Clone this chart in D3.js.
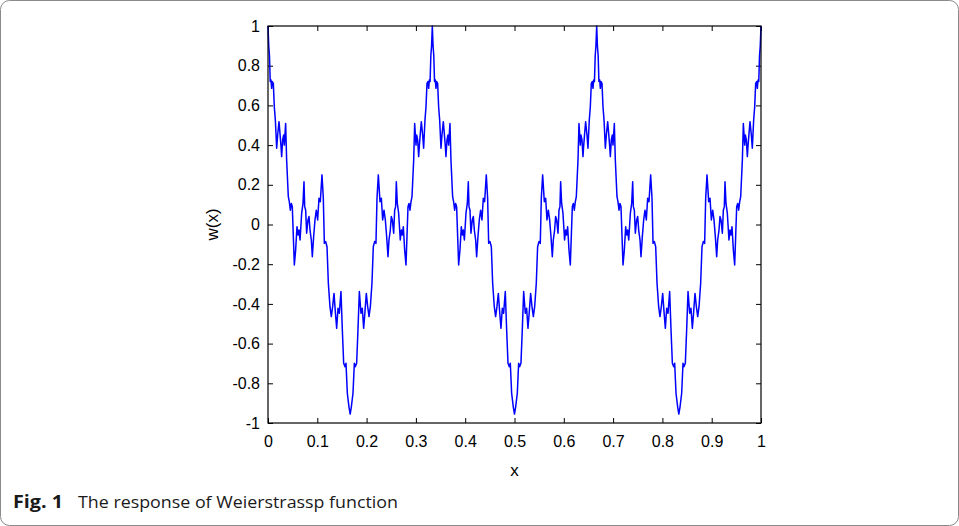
<!DOCTYPE html>
<html>
<head>
<meta charset="utf-8">
<script src="https://cdn.jsdelivr.net/npm/d3@7"></script>
<style>
  html, body { margin: 0; padding: 0; background: #fff; }
  svg { display: block; }
  .tick text { font-family: "Liberation Sans", Arial, sans-serif; font-size: 16px; fill: #000; }
  .tick line { stroke: #000; }
</style>
</head>
<body>
<svg id="chart" width="959" height="526"></svg>
<script>
// tick labels
const xTicks = [0, 0.1, 0.2, 0.3, 0.4, 0.5, 0.6, 0.7, 0.8, 0.9, 1];
const yTicks = [-1, -0.8, -0.6, -0.4, -0.2, 0, 0.2, 0.4, 0.6, 0.8, 1];

// w(x), [x, w]
const curve = [
  [0.0000,1.000],[0.0015,0.900],[0.0030,0.850],[0.0045,0.720],[0.0061,0.728],[0.0074,0.686],[0.0088,0.720],[0.0108,0.711],
  [0.0128,0.593],[0.0149,0.526],[0.0176,0.384],[0.0196,0.451],[0.0223,0.518],[0.0243,0.459],[0.0264,0.393],
  [0.0277,0.342],[0.0297,0.426],[0.0318,0.451],[0.0331,0.400],[0.0358,0.509],[0.0378,0.325],[0.0412,0.140],
  [0.0432,0.115],[0.0453,0.072],[0.0473,0.106],[0.0493,0.090],[0.0514,-0.061],[0.0534,-0.204],[0.0561,-0.128],
  [0.0588,-0.011],[0.0609,-0.053],[0.0629,-0.028],[0.0650,-0.078],[0.0683,0.057],[0.0710,0.106],[0.0730,0.215],
  [0.0744,0.090],[0.0764,0.072],[0.0784,-0.044],[0.0811,0.023],[0.0832,0.040],[0.0852,-0.028],[0.0879,-0.078],
  [0.0899,-0.162],[0.0926,-0.061],[0.0953,0.023],[0.0980,0.072],[0.1007,0.023],[0.1034,0.132],[0.1061,0.115],
  [0.1095,0.250],[0.1122,0.132],[0.1143,-0.095],[0.1170,-0.086],[0.1197,-0.112],[0.1224,-0.296],[0.1257,-0.414],
  [0.1284,-0.464],[0.1311,-0.414],[0.1339,-0.347],[0.1366,-0.440],[0.1393,-0.523],[0.1420,-0.422],[0.1447,-0.447],
  [0.1480,-0.338],[0.1508,-0.531],[0.1535,-0.699],[0.1562,-0.716],[0.1582,-0.699],[0.1609,-0.850],[0.1643,-0.920],
  [0.1667,-0.955],
  [0.1690,-0.920],[0.1724,-0.850],[0.1751,-0.699],[0.1771,-0.716],[0.1798,-0.699],[0.1825,-0.531],[0.1853,-0.338],
  [0.1886,-0.447],[0.1913,-0.422],[0.1940,-0.523],[0.1967,-0.440],[0.1994,-0.347],[0.2022,-0.414],[0.2049,-0.464],
  [0.2076,-0.414],[0.2109,-0.296],[0.2136,-0.112],[0.2163,-0.086],[0.2190,-0.095],[0.2211,0.132],[0.2238,0.250],
  [0.2272,0.115],[0.2299,0.132],[0.2326,0.023],[0.2353,0.072],[0.2380,0.023],[0.2407,-0.061],[0.2434,-0.162],
  [0.2454,-0.078],[0.2481,-0.028],[0.2501,0.040],[0.2522,0.023],[0.2549,-0.044],[0.2569,0.072],[0.2589,0.090],
  [0.2603,0.215],[0.2623,0.106],[0.2650,0.057],[0.2683,-0.078],[0.2704,-0.028],[0.2724,-0.053],[0.2745,-0.011],
  [0.2772,-0.128],[0.2799,-0.204],[0.2819,-0.061],[0.2840,0.090],[0.2860,0.106],[0.2880,0.072],[0.2901,0.115],
  [0.2921,0.140],[0.2955,0.325],[0.2975,0.509],[0.3002,0.400],[0.3015,0.451],[0.3036,0.426],[0.3056,0.342],
  [0.3069,0.393],[0.3090,0.459],[0.3110,0.518],[0.3137,0.451],[0.3157,0.384],[0.3184,0.526],[0.3205,0.593],
  [0.3225,0.711],[0.3245,0.720],[0.3259,0.686],[0.3272,0.728],[0.3288,0.720],[0.3303,0.850],[0.3318,0.900],[0.3333,1.000],
  [0.3348,0.900],[0.3363,0.850],[0.3378,0.720],[0.3394,0.728],[0.3407,0.686],[0.3421,0.720],[0.3441,0.711],[0.3461,0.593],
  [0.3482,0.526],[0.3509,0.384],[0.3529,0.451],[0.3556,0.518],[0.3576,0.459],[0.3597,0.393],[0.3610,0.342],
  [0.3630,0.426],[0.3651,0.451],[0.3664,0.400],[0.3691,0.509],[0.3711,0.325],[0.3745,0.140],[0.3765,0.115],
  [0.3786,0.072],[0.3806,0.106],[0.3826,0.090],[0.3847,-0.061],[0.3867,-0.204],[0.3894,-0.128],[0.3921,-0.011],
  [0.3942,-0.053],[0.3962,-0.028],[0.3983,-0.078],[0.4016,0.057],[0.4043,0.106],[0.4063,0.215],[0.4077,0.090],
  [0.4097,0.072],[0.4117,-0.044],[0.4144,0.023],[0.4165,0.040],[0.4185,-0.028],[0.4212,-0.078],[0.4232,-0.162],
  [0.4259,-0.061],[0.4286,0.023],[0.4313,0.072],[0.4340,0.023],[0.4367,0.132],[0.4394,0.115],[0.4428,0.250],
  [0.4455,0.132],[0.4476,-0.095],[0.4503,-0.086],[0.4530,-0.112],[0.4557,-0.296],[0.4590,-0.414],[0.4617,-0.464],
  [0.4644,-0.414],[0.4672,-0.347],[0.4699,-0.440],[0.4726,-0.523],[0.4753,-0.422],[0.4780,-0.447],[0.4813,-0.338],
  [0.4841,-0.531],[0.4868,-0.699],[0.4895,-0.716],[0.4915,-0.699],[0.4942,-0.850],[0.4976,-0.920],[0.5000,-0.955],
  [0.5023,-0.920],[0.5057,-0.850],[0.5084,-0.699],[0.5104,-0.716],[0.5131,-0.699],[0.5158,-0.531],[0.5186,-0.338],
  [0.5219,-0.447],[0.5246,-0.422],[0.5273,-0.523],[0.5300,-0.440],[0.5327,-0.347],[0.5355,-0.414],[0.5382,-0.464],
  [0.5409,-0.414],[0.5442,-0.296],[0.5469,-0.112],[0.5496,-0.086],[0.5523,-0.095],[0.5544,0.132],[0.5571,0.250],
  [0.5605,0.115],[0.5632,0.132],[0.5659,0.023],[0.5686,0.072],[0.5713,0.023],[0.5740,-0.061],[0.5767,-0.162],
  [0.5787,-0.078],[0.5814,-0.028],[0.5834,0.040],[0.5855,0.023],[0.5882,-0.044],[0.5902,0.072],[0.5922,0.090],
  [0.5936,0.215],[0.5956,0.106],[0.5983,0.057],[0.6016,-0.078],[0.6037,-0.028],[0.6057,-0.053],[0.6078,-0.011],
  [0.6105,-0.128],[0.6132,-0.204],[0.6152,-0.061],[0.6173,0.090],[0.6193,0.106],[0.6213,0.072],[0.6234,0.115],
  [0.6254,0.140],[0.6288,0.325],[0.6308,0.509],[0.6335,0.400],[0.6348,0.451],[0.6369,0.426],[0.6389,0.342],
  [0.6402,0.393],[0.6423,0.459],[0.6443,0.518],[0.6470,0.451],[0.6490,0.384],[0.6517,0.526],[0.6538,0.593],
  [0.6558,0.711],[0.6578,0.720],[0.6592,0.686],[0.6605,0.728],[0.6622,0.720],[0.6637,0.850],[0.6652,0.900],[0.6667,1.000],
  [0.6682,0.900],[0.6697,0.850],[0.6712,0.720],[0.6728,0.728],[0.6741,0.686],[0.6755,0.720],[0.6775,0.711],[0.6795,0.593],
  [0.6816,0.526],[0.6843,0.384],[0.6863,0.451],[0.6890,0.518],[0.6910,0.459],[0.6931,0.393],[0.6944,0.342],
  [0.6964,0.426],[0.6985,0.451],[0.6998,0.400],[0.7025,0.509],[0.7045,0.325],[0.7079,0.140],[0.7099,0.115],
  [0.7120,0.072],[0.7140,0.106],[0.7160,0.090],[0.7181,-0.061],[0.7201,-0.204],[0.7228,-0.128],[0.7255,-0.011],
  [0.7276,-0.053],[0.7296,-0.028],[0.7317,-0.078],[0.7350,0.057],[0.7377,0.106],[0.7397,0.215],[0.7411,0.090],
  [0.7431,0.072],[0.7451,-0.044],[0.7478,0.023],[0.7499,0.040],[0.7519,-0.028],[0.7546,-0.078],[0.7566,-0.162],
  [0.7593,-0.061],[0.7620,0.023],[0.7647,0.072],[0.7674,0.023],[0.7701,0.132],[0.7728,0.115],[0.7762,0.250],
  [0.7789,0.132],[0.7810,-0.095],[0.7837,-0.086],[0.7864,-0.112],[0.7891,-0.296],[0.7924,-0.414],[0.7951,-0.464],
  [0.7978,-0.414],[0.8006,-0.347],[0.8033,-0.440],[0.8060,-0.523],[0.8087,-0.422],[0.8114,-0.447],[0.8147,-0.338],
  [0.8175,-0.531],[0.8202,-0.699],[0.8229,-0.716],[0.8249,-0.699],[0.8276,-0.850],[0.8310,-0.920],[0.8333,-0.955],
  [0.8357,-0.920],[0.8391,-0.850],[0.8418,-0.699],[0.8438,-0.716],[0.8465,-0.699],[0.8492,-0.531],[0.8520,-0.338],
  [0.8553,-0.447],[0.8580,-0.422],[0.8607,-0.523],[0.8634,-0.440],[0.8661,-0.347],[0.8689,-0.414],[0.8716,-0.464],
  [0.8743,-0.414],[0.8776,-0.296],[0.8803,-0.112],[0.8830,-0.086],[0.8857,-0.095],[0.8878,0.132],[0.8905,0.250],
  [0.8939,0.115],[0.8966,0.132],[0.8993,0.023],[0.9020,0.072],[0.9047,0.023],[0.9074,-0.061],[0.9101,-0.162],
  [0.9121,-0.078],[0.9148,-0.028],[0.9168,0.040],[0.9189,0.023],[0.9216,-0.044],[0.9236,0.072],[0.9256,0.090],
  [0.9270,0.215],[0.9290,0.106],[0.9317,0.057],[0.9350,-0.078],[0.9371,-0.028],[0.9391,-0.053],[0.9412,-0.011],
  [0.9439,-0.128],[0.9466,-0.204],[0.9486,-0.061],[0.9507,0.090],[0.9527,0.106],[0.9547,0.072],[0.9568,0.115],
  [0.9588,0.140],[0.9622,0.325],[0.9642,0.509],[0.9669,0.400],[0.9682,0.451],[0.9703,0.426],[0.9723,0.342],
  [0.9736,0.393],[0.9757,0.459],[0.9777,0.518],[0.9804,0.451],[0.9824,0.384],[0.9851,0.526],[0.9872,0.593],
  [0.9892,0.711],[0.9912,0.720],[0.9926,0.686],[0.9939,0.728],[0.9955,0.720],[0.9970,0.850],[0.9985,0.900],[1.0000,1.000]
];

var svg = d3.select("#chart"),
    width = +svg.attr("width"),
    height = +svg.attr("height");

// outer frame of the figure
svg.append("rect")
    .attr("x", 0.5).attr("y", 0.5)
    .attr("width", width - 1).attr("height", height - 1)
    .attr("rx", 9)
    .attr("fill", "none")
    .attr("stroke", "#8a8a8a")
    .attr("stroke-width", 1);

var margin = {left: 268, right: 198, top: 26, bottom: 103};
var x = d3.scaleLinear().domain([0, 1]).range([margin.left, width - margin.right]);
var y = d3.scaleLinear().domain([-1, 1]).range([height - margin.bottom, margin.top]);

var fmt = function(d) { return String(+d.toFixed(1)); };

svg.append("g")
    .attr("transform", "translate(0," + y(-1) + ")")
    .call(d3.axisBottom(x).tickValues(xTicks).tickFormat(fmt).tickSizeInner(-5).tickSizeOuter(0).tickPadding(13));
svg.append("g")
    .attr("transform", "translate(0," + y(1) + ")")
    .call(d3.axisTop(x).tickValues(xTicks).tickFormat("").tickSizeInner(-5).tickSizeOuter(0));
svg.append("g")
    .attr("transform", "translate(" + x(0) + ",0)")
    .call(d3.axisLeft(y).tickValues(yTicks).tickFormat(fmt).tickSizeInner(-5).tickSizeOuter(0).tickPadding(8));
svg.append("g")
    .attr("transform", "translate(" + x(1) + ",0)")
    .call(d3.axisRight(y).tickValues(yTicks).tickFormat("").tickSizeInner(-5).tickSizeOuter(0));

svg.selectAll(".domain").remove();

var line = d3.line()
    .x(function(d) { return x(d[0]); })
    .y(function(d) { return y(d[1]); });

svg.append("path")
    .datum(curve)
    .attr("d", line)
    .attr("fill", "none")
    .attr("stroke", "#0000ff")
    .attr("stroke-width", 1.5)
    .attr("stroke-linejoin", "round");

// plot box
svg.append("rect")
    .attr("x", x(0)).attr("y", y(1))
    .attr("width", x(1) - x(0)).attr("height", y(-1) - y(1))
    .attr("fill", "none")
    .attr("stroke", "#000")
    .attr("stroke-width", 1.2);

svg.append("text")
    .attr("x", (x(0) + x(1)) / 2).attr("y", 476)
    .attr("text-anchor", "middle")
    .style("font-family", "Liberation Sans, Arial, sans-serif")
    .style("font-size", "17px")
    .text("x");

svg.append("text")
    .attr("transform", "translate(218," + y(0) + ") rotate(-90)")
    .attr("text-anchor", "middle")
    .style("font-family", "Liberation Sans, Arial, sans-serif")
    .style("font-size", "17px")
    .text("w(x)");

// caption
svg.append("text")
    .attr("x", 13).attr("y", 508)
    .attr("textLength", 50).attr("lengthAdjust", "spacingAndGlyphs")
    .style("font-family", "Open Sans, sans-serif")
    .style("font-size", "17px")
    .style("font-weight", "bold")
    .attr("fill", "#1a1a1a")
    .text("Fig. 1");
svg.append("text")
    .attr("x", 78).attr("y", 508)
    .attr("textLength", 320).attr("lengthAdjust", "spacingAndGlyphs")
    .style("font-family", "Open Sans, sans-serif")
    .style("font-size", "17px")
    .attr("fill", "#1a1a1a")
    .text("The response of Weierstrassp function");
</script>
</body>
</html>
